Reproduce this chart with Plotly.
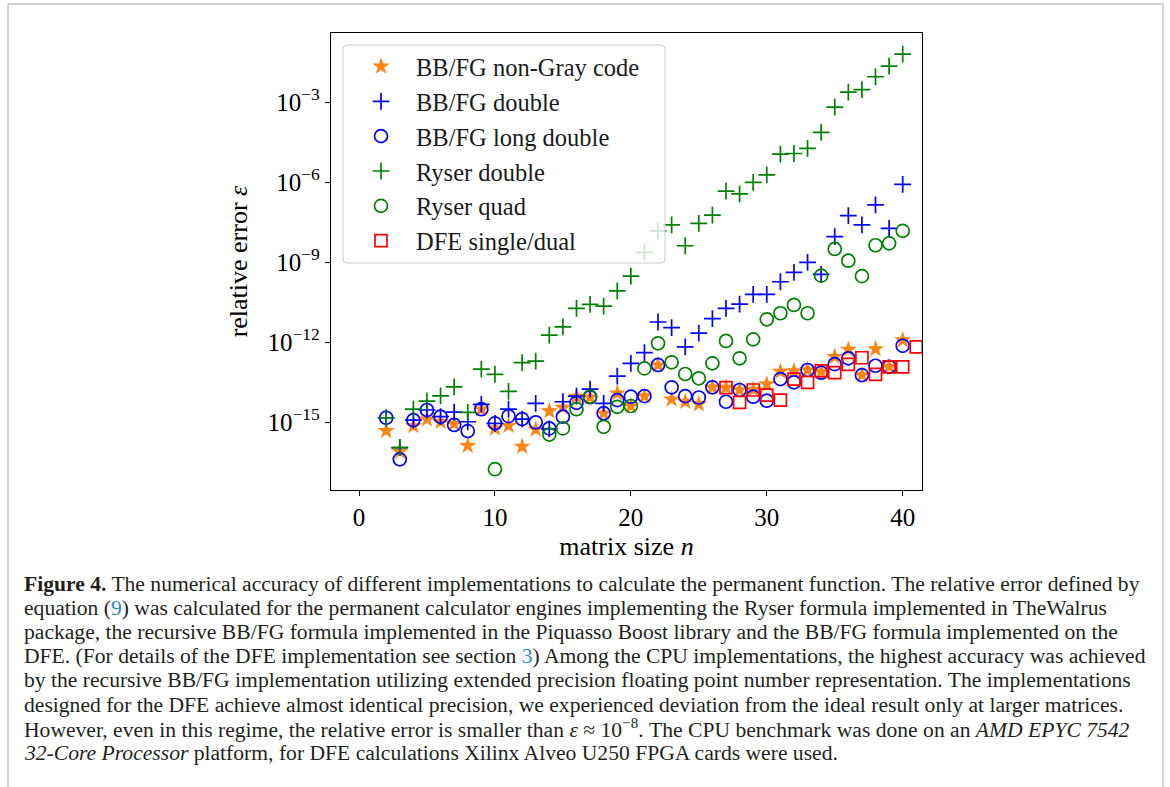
import plotly.graph_objects as go

# ---------------- data (log10 of relative error) ----------------
n_main = list(range(2, 41))

nongray_exp = [-15.33, -16.11, -15.15, -14.90, -14.99, -15.07, -15.89, -14.52, -15.24, -15.14,
               -15.92, -15.28, -14.59, -14.46, -14.05, -14.07, -14.67, -13.92, -14.40, -14.03,
               -12.86, -14.15, -14.24, -14.33, -13.70, -13.71, -13.80, -13.78, -13.58, -13.11,
               -13.09, -13.05, -13.12, -12.55, -12.28, -13.24, -12.26, -12.93, -11.93]

bb_double_exp = [-14.84, -15.96, -14.93, -14.55, -14.80, -14.63, -14.99, -14.34, -15.05, -14.52,
                 -14.89, -14.30, -15.26, -14.24, -14.03, -13.77, -14.30, -13.28, -12.80, -12.40,
                 -11.25, -11.46, -12.18, -11.67, -11.12, -10.74, -10.58, -10.21, -10.21, -9.74,
                 -9.39, -9.01, -9.46, -8.05, -7.26, -7.61, -6.86, -7.74, -6.09]

bb_long_exp = [-14.84, -16.40, -14.93, -14.55, -14.80, -15.11, -15.34, -14.52, -15.05, -14.78,
               -14.89, -15.01, -15.24, -14.80, -14.28, -14.07, -14.67, -14.18, -14.05, -14.03,
               -12.86, -13.70, -14.03, -14.08, -13.70, -14.24, -13.80, -14.05, -14.20, -13.39,
               -13.51, -13.05, -13.15, -12.83, -12.61, -13.24, -12.89, -12.93, -12.14]

ryser_double_exp = [-14.84, -15.96, -14.52, -14.22, -14.02, -13.68, -14.64, -13.02, -13.21, -13.85,
                    -12.77, -12.72, -11.74, -11.43, -10.74, -10.59, -10.65, -10.08, -9.53, -8.64,
                    -7.83, -7.61, -8.39, -7.55, -7.24, -6.34, -6.44, -6.01, -5.73, -4.95,
                    -4.93, -4.74, -4.14, -3.19, -2.63, -2.53, -2.05, -1.65, -1.20]

n_quad = [10] + list(range(14, 41))
ryser_quad_exp = [-16.77, -15.47, -15.24, -14.52, -14.05, -15.18, -14.43, -14.40, -12.99, -12.05,
                  -12.76, -13.20, -13.36, -12.80, -11.96, -12.61, -11.90, -11.15, -10.92, -10.61,
                  -10.92, -9.51, -8.51, -8.95, -9.53, -8.37, -8.30, -7.83]

n_dfe = list(range(27, 42))
dfe_exp = [-13.71, -14.26, -13.80, -13.99, -14.18, -13.39, -13.51, -13.08, -13.15, -12.84,
           -12.59, -13.21, -12.93, -12.93, -12.18]

x_ticks = [0, 10, 20, 30, 40]
y_tick_exps = [-15, -12, -9, -6, -3]

caption_lines = [
    "<b>Figure 4.</b> The numerical accuracy of different implementations to calculate the permanent function. The relative error defined by",
    "equation (<span style='color:#2f8ac4'>9</span>) was calculated for the permanent calculator engines implementing the Ryser formula implemented in TheWalrus",
    "package, the recursive BB/FG formula implemented in the Piquasso Boost library and the BB/FG formula implemented on the",
    "DFE. (For details of the DFE implementation see section <span style='color:#2f8ac4'>3</span>) Among the CPU implementations, the highest accuracy was achieved",
    "by the recursive BB/FG implementation utilizing extended precision floating point number representation. The implementations",
    "designed for the DFE achieve almost identical precision, we experienced deviation from the ideal result only at larger matrices.",
    "However, even in this regime, the relative error is smaller than <i>ε</i> ≈ 10<sup>−8</sup>. The CPU benchmark was done on an <i>AMD EPYC 7542</i>",
    "<i>32-Core Processor</i> platform, for DFE calculations Xilinx Alveo U250 FPGA cards were used.",
]

# ---------------- layout geometry (pixels) ----------------
W, H = 1170, 787
L, R, T, B = 331, 922, 33, 490
pw, ph = R - L, B - T


def px(x):
    return (x - L) / pw


def py(y):
    return (B - y) / ph


def tolin(exps):
    return [10 ** e for e in exps]


SERIF = "Liberation Serif, Times New Roman, serif"
ORANGE = "#ff8410"
BLUE = "#0000ff"
GREEN = "#008000"
RED = "#ff0000"

fig = go.Figure()

fig.add_trace(go.Scatter(x=n_main, y=tolin(nongray_exp), mode="markers", name="BB/FG non-Gray code",
                         marker=dict(symbol="star", size=13, color=ORANGE, line=dict(width=0))))
fig.add_trace(go.Scatter(x=n_main, y=tolin(bb_double_exp), mode="markers", name="BB/FG double",
                         marker=dict(symbol="cross-thin-open", size=12, color=BLUE, line=dict(width=1.7, color=BLUE))))
fig.add_trace(go.Scatter(x=n_main, y=tolin(bb_long_exp), mode="markers", name="BB/FG long double",
                         marker=dict(symbol="circle-open", size=13, color=BLUE, line=dict(width=1.7, color=BLUE))))
fig.add_trace(go.Scatter(x=n_main, y=tolin(ryser_double_exp), mode="markers", name="Ryser double",
                         marker=dict(symbol="cross-thin-open", size=12, color=GREEN, line=dict(width=1.7, color=GREEN))))
fig.add_trace(go.Scatter(x=n_quad, y=tolin(ryser_quad_exp), mode="markers", name="Ryser quad",
                         marker=dict(symbol="circle-open", size=13, color=GREEN, line=dict(width=1.7, color=GREEN))))
fig.add_trace(go.Scatter(x=n_dfe, y=tolin(dfe_exp), mode="markers", name="DFE single/dual",
                         marker=dict(symbol="square-open", size=12, color=RED, line=dict(width=1.7, color=RED))))

for i, tr in enumerate(fig.data):
    tr.legendgroup = "g%d" % i

# legend box (matplotlib style, semi-transparent white with rounded corners)
lx0, lx1, ly0, ly1 = 343, 665, 45, 263
r = 4
rx, ry = r / pw, r / ph
x0, x1, y0, y1 = px(lx0), px(lx1), py(ly1), py(ly0)
path = (f"M {x0+rx},{y0} L {x1-rx},{y0} Q {x1},{y0} {x1},{y0+ry} L {x1},{y1-ry} "
        f"Q {x1},{y1} {x1-rx},{y1} L {x0+rx},{y1} Q {x0},{y1} {x0},{y1-ry} "
        f"L {x0},{y0+ry} Q {x0},{y0} {x0+rx},{y0} Z")

shapes = [
    dict(type="path", xref="paper", yref="paper", path=path,
         fillcolor="rgba(255,255,255,0.8)", line=dict(color="#cccccc", width=1), layer="above"),
    dict(type="rect", xref="paper", yref="paper", x0=px(8), x1=px(1163), y0=py(810), y1=py(4),
         line=dict(color="#c4c4c4", width=1.5), fillcolor="rgba(0,0,0,0)", layer="below"),
]

annotations = []
for i, line in enumerate(caption_lines):
    yc = 584 + 24.1 * i
    annotations.append(dict(text=line, xref="paper", yref="paper", x=px(22), y=py(yc),
                            xanchor="left", yanchor="middle", showarrow=False,
                            font=dict(family=SERIF, size=21.6, color="#231f20"), align="left"))

fig.update_layout(
    width=W, height=H,
    margin=dict(l=L, r=W - R, t=T, b=H - B, pad=0),
    paper_bgcolor="white", plot_bgcolor="white",
    showlegend=True,
    legend=dict(x=px(lx0 + 3), y=py(ly0 - 1), xanchor="left", yanchor="top",
                bgcolor="rgba(0,0,0,0)", borderwidth=0,
                font=dict(family=SERIF, size=24.5, color="#1a1a1a"),
                itemwidth=60, tracegroupgap=0, itemsizing="trace"),
    shapes=shapes,
    annotations=annotations,
    font=dict(family=SERIF, color="black"),
)

fig.update_xaxes(range=[-2.06, 41.42], tickmode="array", tickvals=x_ticks,
                 ticktext=[str(v) for v in x_ticks],
                 ticks="outside", ticklen=5, tickwidth=1, tickcolor="black",
                 showline=True, linecolor="black", linewidth=1.3, mirror=True,
                 showgrid=False, zeroline=False,
                 tickfont=dict(family=SERIF, size=25, color="black"),
                 title=dict(text="matrix size <i>n</i>", font=dict(family=SERIF, size=26, color="black"),
                            standoff=6))

fig.update_yaxes(type="log", range=[-17.55, -0.41], tickmode="array",
                 tickvals=[10 ** e for e in y_tick_exps],
                 ticktext=["10<sup>−%d</sup>" % (-e) for e in y_tick_exps],
                 ticks="outside", ticklen=5, tickwidth=1, tickcolor="black",
                 showline=True, linecolor="black", linewidth=1.3, mirror=True,
                 showgrid=False, zeroline=False,
                 tickfont=dict(family=SERIF, size=25, color="black"),
                 title=dict(text="relative error <i>ε</i>", font=dict(family=SERIF, size=26, color="black"),
                            standoff=12))

fig.write_html("out.html")
